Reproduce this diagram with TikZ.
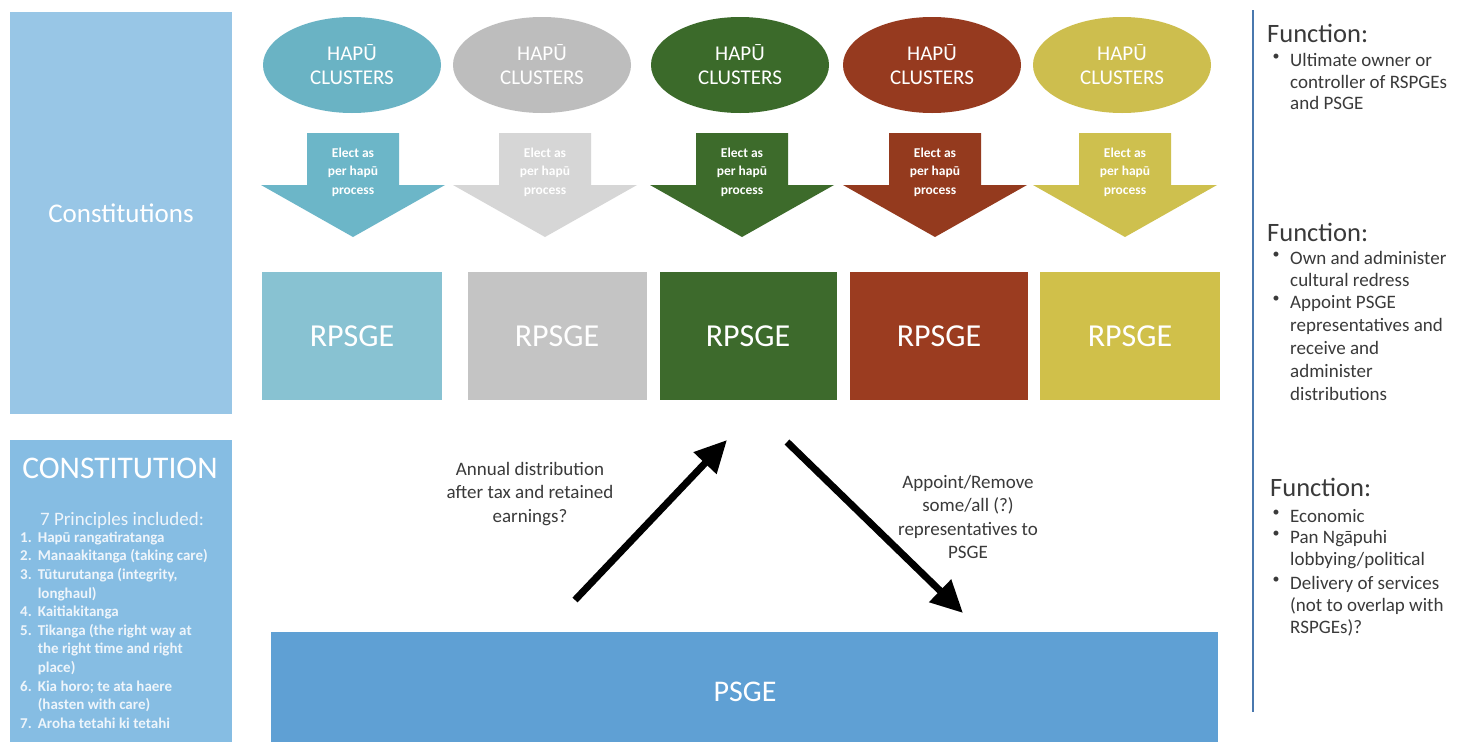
\documentclass[tikz,border=0pt]{standalone}
\usepackage{fontspec}
\setmainfont{Carlito}
\usetikzlibrary{shapes.geometric,arrows.meta}
\definecolor{eteal}{HTML}{6AB3C4}
\definecolor{egray}{HTML}{BDBDBD}
\definecolor{egreen}{HTML}{3B6A2A}
\definecolor{erust}{HTML}{963A1F}
\definecolor{eyel}{HTML}{CDBE4E}
\definecolor{ateal}{HTML}{6CB6C8}
\definecolor{agray}{HTML}{D6D6D6}
\definecolor{agreen}{HTML}{3D6B2B}
\definecolor{arust}{HTML}{943A1E}
\definecolor{ayel}{HTML}{CEC04E}
\definecolor{bteal}{HTML}{88C2D2}
\definecolor{bgray}{HTML}{C4C4C4}
\definecolor{bgreen}{HTML}{3D6A2C}
\definecolor{brust}{HTML}{9B3C20}
\definecolor{byel}{HTML}{D0C04A}
\definecolor{lbtop}{HTML}{98C6E6}
\definecolor{lbbot}{HTML}{86BDE3}
\definecolor{psgec}{HTML}{5FA0D4}
\definecolor{vline}{HTML}{4A78AE}
\definecolor{listc}{HTML}{EEF5FB}
\definecolor{ftxt}{HTML}{3A3A3A}
\begin{document}
\begin{tikzpicture}[x=1pt,y=-1pt,
  ell/.style={ellipse, minimum width=178, minimum height=96, inner sep=0, text=white, align=center, font=\fontsize{21}{24}\selectfont},
  rbox/.style={minimum height=128, inner sep=0, text=white, font=\fontsize{32}{36}\selectfont},
  arrtxt/.style={text=white, align=center, inner sep=0, font=\bfseries\fontsize{13.5}{18.5}\selectfont},
  lbl/.style={align=center, inner sep=0, font=\fontsize{19}{23.5}\selectfont, text=ftxt},
  fhead/.style={anchor=west, inner sep=0, font=\fontsize{26.5}{30}\selectfont, text=ftxt},
  fitem/.style={anchor=north west, align=left, inner sep=0, font=\fontsize{19}{21.8}\selectfont, text=ftxt},
  fbul/.style={anchor=north, inner sep=0, font=\fontsize{14}{22}\selectfont, text=ftxt},
  bigarrow/.style={line width=7pt, -{Triangle[length=32pt,width=30pt]}}
]
\useasboundingbox (0,0) rectangle (1470,742);
\fill[white] (0,0) rectangle (1470,742);

% left panels
\node[fill=lbtop, minimum width=222, minimum height=402, inner sep=0, text=white,
      font=\fontsize{27}{30}\selectfont] (consts) at (121,213) {Constitutions};
\node[fill=lbbot, minimum width=222, minimum height=302, inner sep=0, anchor=north west] (constbox) at (10,440) {};
\node[text=white, inner sep=0, font=\fontsize{31.5}{34}\selectfont] (consthead) at (120,468) {CONSTITUTION};
\node[text=listc, inner sep=0, font=\fontsize{19}{22}\selectfont] (princ) at (122,520) {7 Principles included:};
\node[anchor=north west, inner sep=0, text=listc, font=\bfseries\fontsize{15}{18.6}\selectfont] (plist) at (20,529) {%
\begin{tabular}{@{}l@{\hspace{6pt}}l@{}}
1. & Hapū rangatiratanga\\
2. & Manaakitanga (taking care)\\
3. & Tūturutanga (integrity,\\
   & longhaul)\\
4. & Kaitiakitanga\\
5. & Tikanga (the right way at\\
   & the right time and right\\
   & place)\\
6. & Kia horo; te ata haere\\
   & (hasten with care)\\
7. & Aroha tetahi ki tetahi
\end{tabular}};

% hapu clusters, elect arrows, RPSGE boxes
\foreach \n/\ex/\ec/\ax/\ac/\bx/\bw/\bc in {
  1/352/eteal/353/ateal/352/180/bteal,
  2/542/egray/545/agray/557/179/bgray,
  3/740/egreen/742/agreen/748/177/bgreen,
  4/932/erust/935/arust/939/178/brust,
  5/1122/eyel/1125/ayel/1130/180/byel}{
  \node[ell, fill=\ec] (h\n) at (\ex,65) {HAPŪ\\CLUSTERS};
  \fill[\ac] (\ax-46,133) -- (\ax+46,133) -- (\ax+46,185) -- (\ax+92,185)
      -- (\ax,237) -- (\ax-92,185) -- (\ax-46,185) -- cycle;
  \node[arrtxt] (e\n) at (\ax,172) {Elect as\\per hapū\\process};
  \node[rbox, fill=\bc, minimum width=\bw] (r\n) at (\bx,336) {RPSGE};
}

% PSGE
\node[fill=psgec, minimum width=947, minimum height=110, inner sep=0, anchor=north west] (psge) at (271,632) {};
\node[text=white, inner sep=0, font=\fontsize{30}{34}\selectfont] (psgetxt) at (745,692) {PSGE};

% big arrows
\coordinate (upS) at (575,600);
\coordinate (upE) at (727,440);
\coordinate (dnS) at (787,442);
\coordinate (dnE) at (963,613);
\draw[bigarrow] (upS) -- (upE);
\draw[bigarrow] (dnS) -- (dnE);
\node[lbl] (t1) at (530,494) {Annual distribution\\after tax and retained\\earnings?};
\node[lbl] (t2) at (968,517) {Appoint/Remove\\some/all (?)\\representatives to\\PSGE};

% right side
\coordinate (vtop) at (1253,10);
\coordinate (vbot) at (1253,712);
\draw[vline, line width=2pt] (vtop) -- (vbot);

\node[fhead] (f1) at (1267,33) {Function:};
\node[fbul] (b11) at (1276,54) {•};
\node[fitem] (i11) at (1290,53) {Ultimate owner or\\controller of RSPGEs\\and PSGE};

\node[fhead] (f2) at (1267,232) {Function:};
\node[fbul] (b21) at (1276,252) {•};
\node[fitem] (i21) at (1290,251) {Own and administer\\cultural redress};
\node[fbul] (b22) at (1276,296) {•};
\node[fitem, font=\fontsize{19}{23}\selectfont] (i22) at (1290,295) {Appoint PSGE\\representatives and\\receive and\\administer\\distributions};

\node[fhead] (f3) at (1270,487) {Function:};
\node[fbul] (b31) at (1276,510) {•};
\node[fitem] (i31) at (1290,509) {Economic};
\node[fbul] (b32) at (1276,531) {•};
\node[fitem] (i32) at (1290,530) {Pan Ngāpuhi\\lobbying/political};
\node[fbul] (b33) at (1276,577) {•};
\node[fitem] (i33) at (1290,576) {Delivery of services\\(not to overlap with\\RSPGEs)?};
\end{tikzpicture}
\end{document}
